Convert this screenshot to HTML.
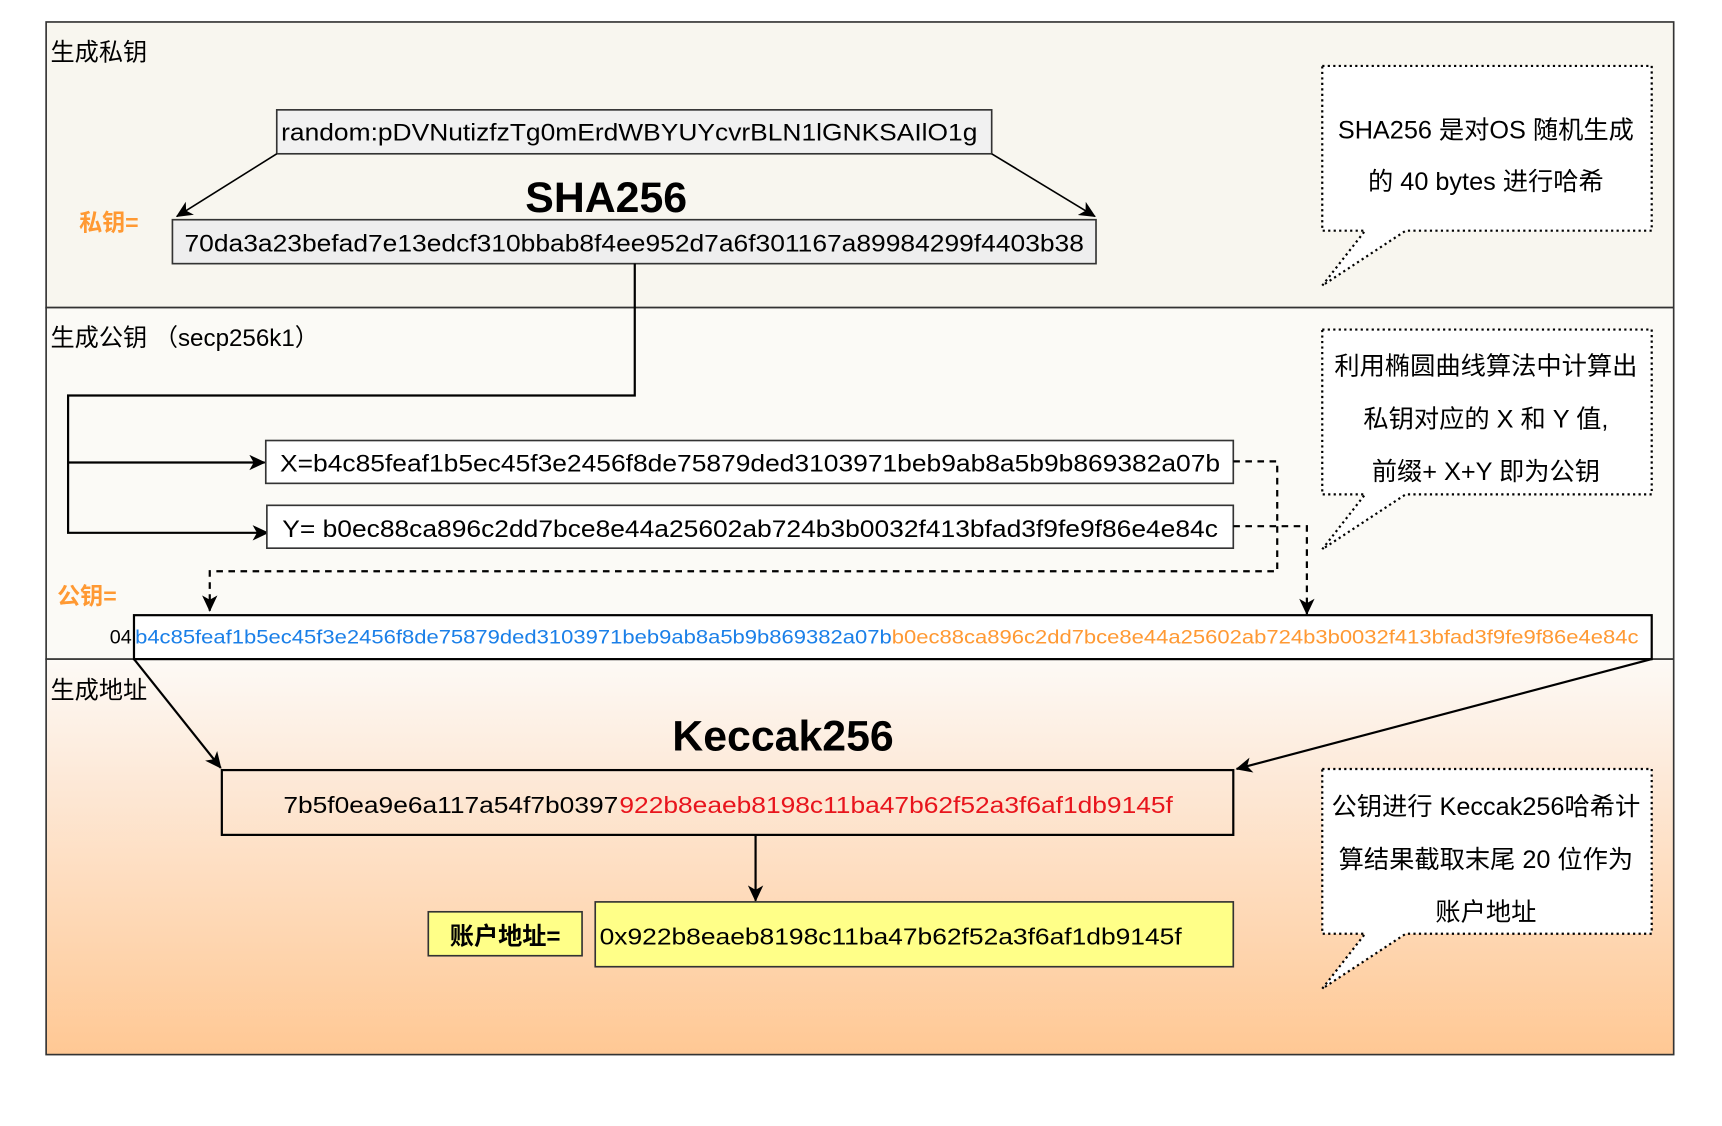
<!DOCTYPE html>
<html><head><meta charset="utf-8"><style>
html,body{margin:0;padding:0;background:#fff;}
svg{display:block;}
text{font-family:"Liberation Sans","Noto Sans CJK SC",sans-serif;}
</style></head><body>
<svg width="1722" height="1126" viewBox="0 0 1568 1025" preserveAspectRatio="none" xmlns="http://www.w3.org/2000/svg">
<defs>
<linearGradient id="g3" x1="0" y1="0" x2="0" y2="1">
<stop offset="0" stop-color="#fdfaf6"/><stop offset="0.3" stop-color="#fde9d8"/><stop offset="1" stop-color="#ffc894"/>
</linearGradient>
<marker id="ar" markerWidth="16" markerHeight="16" refX="14" refY="7" orient="auto" markerUnits="userSpaceOnUse">
<path d="M0,0 L15,7 L0,14 L4,7 Z" fill="#000"/></marker>
</defs>
<rect x="42" y="20" width="1482" height="260" fill="#f8f6ef" stroke="#333" stroke-width="1.5"/>
<rect x="42" y="280" width="1482" height="320" fill="#fbfaf6" stroke="#333" stroke-width="1.5"/>
<rect x="42" y="600" width="1482" height="360" fill="url(#g3)" stroke="#333" stroke-width="1.5"/>

<text x="46" y="55" font-size="22">生成私钥</text>
<text x="46" y="315" font-size="22">生成公钥 （secp256k1）</text>
<text x="46" y="636" font-size="22">生成地址</text>

<rect x="252" y="100" width="651" height="40" fill="#f1f1f1" stroke="#333" stroke-width="1.5"/>
<text x="256" y="128" font-size="22" textLength="634" lengthAdjust="spacingAndGlyphs">random:pDVNutizfzTg0mErdWBYUYcvrBLN1lGNKSAIlO1g</text>
<text x="552" y="193" font-size="39" font-weight="bold" text-anchor="middle">SHA256</text>
<text x="72" y="210" font-size="21" font-weight="bold" fill="#ff9933">私钥=</text>
<rect x="157" y="200" width="841" height="40" fill="#eeeeee" stroke="#333" stroke-width="1.5"/>
<text x="168" y="229" font-size="22" textLength="819" lengthAdjust="spacingAndGlyphs">70da3a23befad7e13edcf310bbab8f4ee952d7a6f301167a89984299f4403b38</text>
<line x1="252" y1="140" x2="161" y2="197" stroke="#000" stroke-width="1.5" marker-end="url(#ar)"/>
<line x1="903" y1="140" x2="997" y2="197" stroke="#000" stroke-width="1.5" marker-end="url(#ar)"/>

<polyline points="578,240 578,360 62,360 62,485 244,485" fill="none" stroke="#000" stroke-width="2" marker-end="url(#ar)"/>
<line x1="62" y1="421" x2="241" y2="421" stroke="#000" stroke-width="2" marker-end="url(#ar)"/>
<rect x="242" y="401" width="881" height="39" fill="#fff" stroke="#333" stroke-width="1.5"/>
<text x="255" y="429" font-size="22" textLength="856" lengthAdjust="spacingAndGlyphs">X=b4c85feaf1b5ec45f3e2456f8de75879ded3103971beb9ab8a5b9b869382a07b</text>
<rect x="243" y="460" width="880" height="39" fill="#fff" stroke="#333" stroke-width="1.5"/>
<text x="257" y="489" font-size="22" textLength="852" lengthAdjust="spacingAndGlyphs">Y= b0ec88ca896c2dd7bce8e44a25602ab724b3b0032f413bfad3f9fe9f86e4e84c</text>

<polyline points="1123,420 1163,420 1163,520 191,520 191,556" fill="none" stroke="#000" stroke-width="2" stroke-dasharray="6,5" marker-end="url(#ar)"/>
<polyline points="1123,479 1190,479 1190,559" fill="none" stroke="#000" stroke-width="2" stroke-dasharray="6,5" marker-end="url(#ar)"/>

<text x="52" y="550" font-size="21" font-weight="bold" fill="#ff9933">公钥=</text>
<rect x="122" y="560" width="1382" height="40" fill="#fff" stroke="#000" stroke-width="2"/>
<text x="100" y="586" font-size="18">04</text>
<text x="123" y="586" font-size="18" fill="#1a7fe8" textLength="689" lengthAdjust="spacingAndGlyphs">b4c85feaf1b5ec45f3e2456f8de75879ded3103971beb9ab8a5b9b869382a07b</text>
<text x="812" y="586" font-size="18" fill="#ff9933" textLength="680" lengthAdjust="spacingAndGlyphs">b0ec88ca896c2dd7bce8e44a25602ab724b3b0032f413bfad3f9fe9f86e4e84c</text>

<line x1="122" y1="600" x2="201" y2="699" stroke="#000" stroke-width="2" marker-end="url(#ar)"/>
<line x1="1504" y1="600" x2="1126" y2="700" stroke="#000" stroke-width="2" marker-end="url(#ar)"/>
<text x="713" y="683" font-size="39" font-weight="bold" text-anchor="middle">Keccak256</text>
<rect x="202" y="701" width="921" height="59" fill="none" stroke="#000" stroke-width="2"/>
<text x="258" y="740" font-size="21" textLength="305" lengthAdjust="spacingAndGlyphs">7b5f0ea9e6a117a54f7b0397</text>
<text x="564" y="740" font-size="21" fill="#e8141c" textLength="504" lengthAdjust="spacingAndGlyphs">922b8eaeb8198c11ba47b62f52a3f6af1db9145f</text>
<line x1="688" y1="760" x2="688" y2="820" stroke="#000" stroke-width="2" marker-end="url(#ar)"/>

<rect x="390" y="830" width="140" height="40" fill="#ffff88" stroke="#333" stroke-width="1.5"/>
<text x="460" y="860" font-size="22" font-weight="bold" text-anchor="middle">账户地址=</text>
<rect x="542" y="821" width="581" height="59" fill="#ffff88" stroke="#333" stroke-width="1.5"/>
<text x="546" y="860" font-size="21" textLength="530" lengthAdjust="spacingAndGlyphs">0x922b8eaeb8198c11ba47b62f52a3f6af1db9145f</text>

<g fill="#fff" stroke="#000" stroke-width="2" stroke-dasharray="2,3">
<path d="M1204,60 H1504 V210 H1280 L1204,260 L1243,210 H1204 Z"/>
<path d="M1204,300 H1504 V450 H1280 L1204,500 L1243,450 H1204 Z"/>
<path d="M1204,700 H1504 V850 H1280 L1204,900 L1243,850 H1204 Z"/>
</g>
<g font-size="23" text-anchor="middle">
<text x="1353" y="126">SHA256 是对OS 随机生成</text>
<text x="1353" y="173">的 40 bytes 进行哈希</text>
<text x="1353" y="341">利用椭圆曲线算法中计算出</text>
<text x="1353" y="389">私钥对应的 X 和 Y 值,</text>
<text x="1353" y="437">前缀+ X+Y 即为公钥</text>
<text x="1353" y="742">公钥进行 Keccak256哈希计</text>
<text x="1353" y="790">算结果截取末尾 20 位作为</text>
<text x="1353" y="838">账户地址</text>
</g>
</svg>
</body></html>
